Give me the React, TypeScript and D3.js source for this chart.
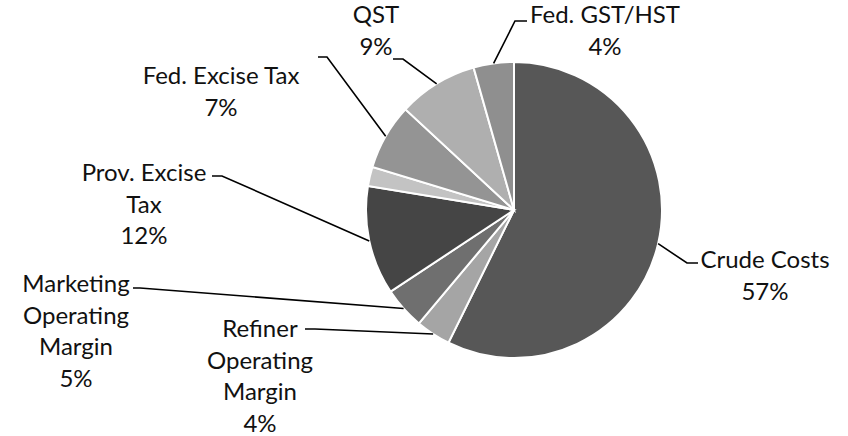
import React from "react";
import * as d3 from "d3";

const categories = [
  "Crude Costs",
  "Refiner Operating Margin",
  "Marketing Operating Margin",
  "Prov. Excise Tax",
  "Other",
  "Fed. Excise Tax",
  "QST",
  "Fed. GST/HST",
];
const values = [57.3, 3.8, 4.6, 11.9, 2.1, 7.2, 8.7, 4.4];
const labelLines: (string[] | null)[] = [
  ["Crude Costs"],
  ["Refiner", "Operating", "Margin"],
  ["Marketing", "Operating", "Margin"],
  ["Prov. Excise", "Tax"],
  null,
  ["Fed. Excise Tax"],
  ["QST"],
  ["Fed. GST/HST"],
];
const colors = ["#575757", "#a5a5a5", "#6f6f6f", "#454545", "#c3c3c3", "#949494", "#afafaf", "#8f8f8f"];

// layout: label text anchor (x center, first baseline), elbow point, line end
const layout: ({ tx: number; ty: number; ex: number; ey: number; hx: number } | null)[] = [
  { tx: 765, ty: 268, ex: 687, ey: 263, hx: 698 },
  { tx: 260, ty: 337, ex: 315, ey: 329, hx: 305 },
  { tx: 76, ty: 292, ex: 140, ey: 288, hx: 133 },
  { tx: 144, ty: 181, ex: 222, ey: 176, hx: 212 },
  null,
  { tx: 221, ty: 84, ex: 327, ey: 57, hx: 318 },
  { tx: 376, ty: 23, ex: 403, ey: 59, hx: 393 },
  { tx: 605, ty: 23, ex: 515, ey: 21, hx: 527 },
];

const W = 848;
const H = 436;
const cx = 514;
const cy = 210;
const R = 148;
const LH = 31.5;

export default function App() {
  const pie = d3.pie<number>().sort(null).value((d) => d)(values);
  const arc = d3.arc<d3.PieArcDatum<number>>().innerRadius(0).outerRadius(R);
  return (
    <svg
      width={W}
      height={H}
      style={{ position: "absolute", left: 0, top: 0, display: "block", background: "#fff" }}
      fontFamily="Lato, 'Open Sans', sans-serif"
      fontSize={24}
    >
      <g transform={`translate(${cx},${cy})`}>
        {pie.map((p, i) => (
          <path key={categories[i]} d={arc(p) || ""} fill={colors[i]} stroke="#fff" strokeWidth={2} />
        ))}
      </g>
      {pie.map((p, i) => {
        const L = layout[i];
        const lines = labelLines[i];
        if (!L || !lines) return null;
        const a = (p.startAngle + p.endAngle) / 2;
        const sx = cx + R * Math.sin(a);
        const sy = cy - R * Math.cos(a);
        const all = [...lines, `${Math.round(values[i])}%`];
        return (
          <g key={"l" + i}>
            <polyline
              points={`${sx},${sy} ${L.ex},${L.ey} ${L.hx},${L.ey}`}
              fill="none"
              stroke="#000"
              strokeWidth={1.6}
            />
            <text textAnchor="middle" fill="#111">
              {all.map((t, j) => (
                <tspan key={j} x={L.tx} y={L.ty + j * LH}>
                  {t}
                </tspan>
              ))}
            </text>
          </g>
        );
      })}
    </svg>
  );
}
